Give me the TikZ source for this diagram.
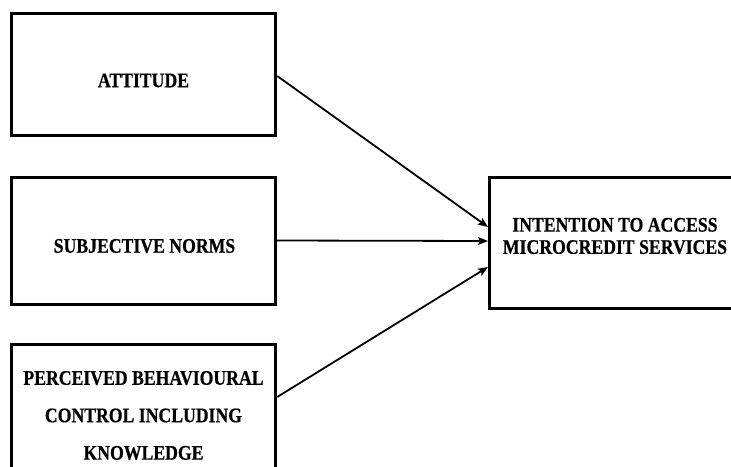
\documentclass[tikz,border=0pt]{standalone}
\usepackage{fontspec}
\usepackage{graphicx}
\setmainfont{Liberation Serif}
\newfontfamily\labelfont[FakeBold=0.6]{Liberation Serif Bold}
\usetikzlibrary{arrows.meta}
\begin{document}
\begin{tikzpicture}[x=1pt,y=-1pt,
  box/.style={draw=black,line width=3pt,rectangle,inner sep=0pt,fill=none},
  lbl/.style={font={\fontsize{17.7}{22}\selectfont\labelfont},align=center,inner sep=0pt,
    yscale=1.17,transform shape},
  link/.style={line width=1.8pt,-{Stealth[length=10pt,width=8pt,inset=2pt]}}]
  \useasboundingbox (0,0) rectangle (731,466);
  \clip (0,0) rectangle (731,466);
  % construct boxes
  \node[box,minimum width=264pt,minimum height=122pt] (att) at (143.7,74.7) {};
  \node[box,minimum width=264pt,minimum height=127pt] (sub) at (143.7,240.5) {};
  \node[box,minimum width=264pt,minimum height=150pt] (pbc) at (143.7,419.7) {};
  \node[box,minimum width=252pt,minimum height=131pt] (int) at (615.5,243) {};
  % box texts
  \node[lbl] (tatt) at (143.5,80.5) {ATTITUDE};
  \node[lbl] (tsub) at (144.5,246) {SUBJECTIVE NORMS};
  \node[lbl,font={\fontsize{17.7}{32}\selectfont\labelfont}] (tpbc) at (143.5,415.5)
    {PERCEIVED BEHAVIOURAL\\CONTROL INCLUDING\\KNOWLEDGE};
  \node[lbl,font={\fontsize{17.7}{19}\selectfont\labelfont}] (tint) at (615,236)
    {INTENTION TO ACCESS\\MICROCREDIT SERVICES};
  % paths into the outcome
  \draw[link] ([yshift=-1.3pt]att.east) -- ([yshift=16pt]int.west);
  \draw[link] (sub.east) -- ([yshift=2pt]int.west);
  \draw[link] ([yshift=22.7pt]pbc.east) -- ([yshift=-24pt]int.west);
\end{tikzpicture}
\end{document}
